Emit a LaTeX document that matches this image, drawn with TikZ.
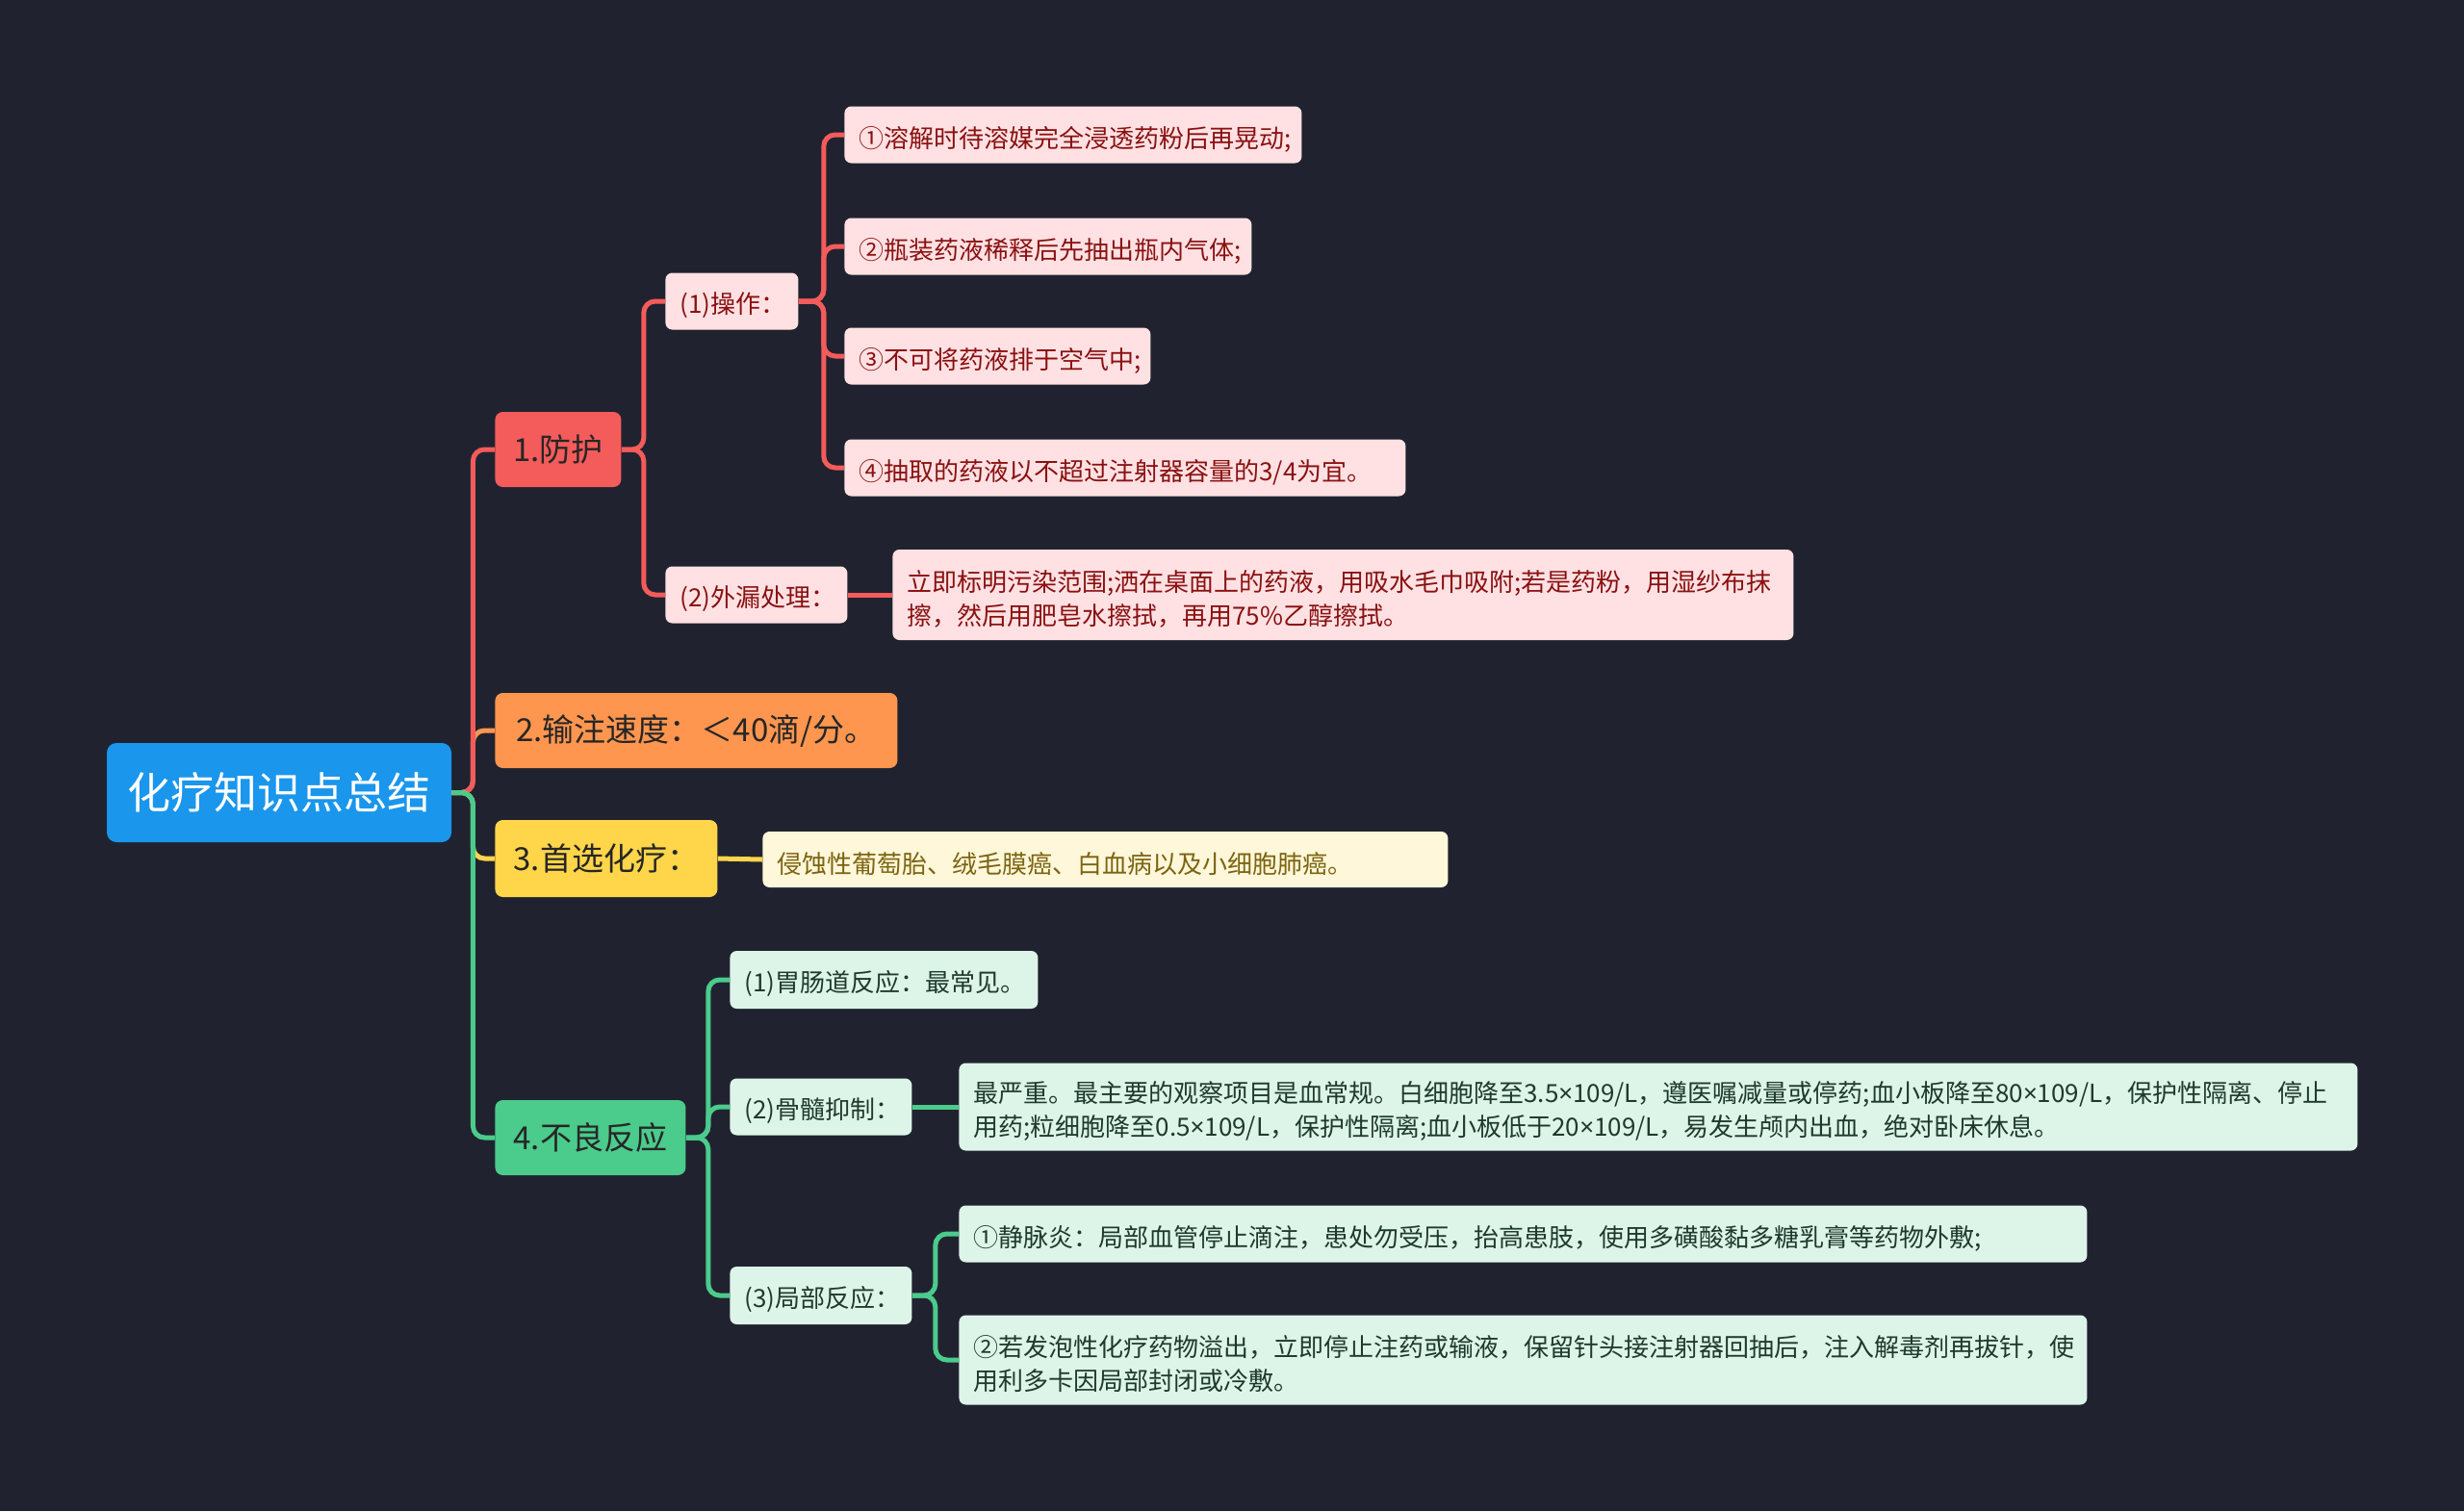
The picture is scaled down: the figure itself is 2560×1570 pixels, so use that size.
\documentclass[tikz,border=0pt]{standalone}
\usepackage{fontspec}
\setmainfont{Noto Sans CJK SC}
\newfontfamily\latinf{Noto Sans}
\newcommand{\tms}{{\latinf ×}}
\definecolor{bg}{HTML}{20232F}
\definecolor{cred}{HTML}{F45B5B}
\definecolor{corange}{HTML}{FF964F}
\definecolor{cyellow}{HTML}{FFD54A}
\definecolor{cgreen}{HTML}{4BCB8C}
\definecolor{croot}{HTML}{1A96EC}
\definecolor{lred}{HTML}{FFE1E3}
\definecolor{tred}{HTML}{8A1111}
\definecolor{lyellow}{HTML}{FFF7DA}
\definecolor{tyellow}{HTML}{7C6410}
\definecolor{lgreen}{HTML}{DDF5E8}
\definecolor{tgreen}{HTML}{1E3A2C}
\definecolor{tdark}{HTML}{262626}
\tikzset{
  rootbox/.style={fill=croot, text=white, rounded corners=5pt, inner sep=0pt,
    minimum width=179pt, minimum height=51.5pt, font=\fontsize{22.5}{26}\selectfont},
  mainbox/.style={rounded corners=4pt, inner sep=0pt, text=tdark, anchor=west,
    minimum height=39pt, font=\fontsize{16.5}{20}\selectfont},
  leaf/.style={rounded corners=3.5pt, anchor=west, inner xsep=7.5pt, inner ysep=0pt,
    align=left, text height=15.5pt, font=\fontsize{13}{17.5}\selectfont},
  redleaf/.style={leaf, fill=lred, text=tred},
  yellowleaf/.style={leaf, fill=lyellow, text=tyellow},
  greenleaf/.style={leaf, fill=lgreen, text=tgreen},
  conn/.style={line width=2.5pt, rounded corners=6pt},
}
\begin{document}
\begin{tikzpicture}[x=0.5pt, y=-0.5pt]
\fill[bg] (0,0) rectangle (2560,1570);
\useasboundingbox (0,0) rectangle (2560,1570);

% root
\node[rootbox] (root) at (290,823.5) {化疗知识点总结};

% level 1
\node[mainbox, fill=cred, minimum width=65.5pt] (n1) at (514,467) {1.防护};
\node[mainbox, fill=corange, minimum width=209pt] (n2) at (514,759) {2.输注速度：＜40滴/分。};
\node[mainbox, fill=cyellow, minimum width=115.5pt, minimum height=40pt] (n3) at (514,892) {3.首选化疗：};
\node[mainbox, fill=cgreen, minimum width=99pt] (n4) at (514,1182) {4.不良反应};

% branch 1
\node[redleaf, text width=54pt, minimum height=29.5pt] (a1) at (691,313) {(1)操作：};
\node[redleaf, text width=79.5pt, minimum height=29.5pt] (a2) at (691,618) {(2)外漏处理：};
\node[redleaf, text width=222.5pt, minimum height=29.5pt] (a11) at (877,140) {①溶解时待溶媒完全浸透药粉后再晃动;};
\node[redleaf, text width=196.5pt, minimum height=29.5pt] (a12) at (877,256) {②瓶装药液稀释后先抽出瓶内气体;};
\node[redleaf, text width=144pt, minimum height=29.5pt] (a13) at (877,370) {③不可将药液排于空气中;};
\node[redleaf, text width=276.5pt, minimum height=29.5pt] (a14) at (877,486) {④抽取的药液以不超过注射器容量的3/4为宜。};
\node[redleaf, text width=453pt, minimum height=47pt] (a21) at (927,618) {立即标明污染范围;洒在桌面上的药液，用吸水毛巾吸附;若是药粉，用湿纱布抹\\擦，然后用肥皂水擦拭，再用75\%乙醇擦拭。};

% branch 3
\node[yellowleaf, text width=341pt, minimum height=29pt] (c1) at (792,893) {侵蚀性葡萄胎、绒毛膜癌、白血病以及小细胞肺癌。};

% branch 4
\node[greenleaf, text width=145pt, minimum height=30pt] (d1) at (758,1018) {(1)胃肠道反应：最常见。};
\node[greenleaf, text width=79.5pt, minimum height=29.5pt] (d2) at (758,1150) {(2)骨髓抑制：};
\node[greenleaf, text width=79.5pt, minimum height=30pt] (d3) at (758,1346) {(3)局部反应：};
\node[greenleaf, text width=711.5pt, minimum height=45.5pt] (d21) at (996,1150) {最严重。最主要的观察项目是血常规。白细胞降至3.5\tms109/L，遵医嘱减量或停药;血小板降至80\tms109/L，保护性隔离、停止\\用药;粒细胞降至0.5\tms109/L，保护性隔离;血小板低于20\tms109/L，易发生颅内出血，绝对卧床休息。};
\node[greenleaf, text width=571pt, minimum height=29.5pt] (d31) at (996,1282) {①静脉炎：局部血管停止滴注，患处勿受压，抬高患肢，使用多磺酸黏多糖乳膏等药物外敷;};
\node[greenleaf, text width=571pt, minimum height=46.5pt] (d32) at (996,1413) {②若发泡性化疗药物溢出，立即停止注药或输液，保留针头接注射器回抽后，注入解毒剂再拔针，使\\用利多卡因局部封闭或冷敷。};

% connectors from root
\draw[conn, corange] (root.east) -- ++(22,0) |- (n2.west);
\draw[conn, cred] (root.east) -- ++(22,0) |- (n1.west);
\draw[conn, cyellow] (root.east) -- ++(22,0) |- (n3.west);
\draw[conn, cgreen] (root.east) -- ++(22,0) |- (n4.west);

% branch 1 connectors
\draw[conn, cred] (n1.east) -- ++(23,0) |- (a1.west);
\draw[conn, cred] (n1.east) -- ++(23,0) |- (a2.west);
\draw[conn, cred] (a1.east) -- ++(26,0) |- (a11.west);
\draw[conn, cred] (a1.east) -- ++(26,0) |- (a12.west);
\draw[conn, cred] (a1.east) -- ++(26,0) |- (a13.west);
\draw[conn, cred] (a1.east) -- ++(26,0) |- (a14.west);
\draw[conn, cred] (a2.east) -- (a21.west);

% branch 3
\draw[conn, cyellow] (n3.east) -- (c1.west);

% branch 4
\draw[conn, cgreen] (n4.east) -- ++(23,0) |- (d1.west);
\draw[conn, cgreen] (n4.east) -- ++(23,0) |- (d2.west);
\draw[conn, cgreen] (n4.east) -- ++(23,0) |- (d3.west);
\draw[conn, cgreen] (d2.east) -- (d21.west);
\draw[conn, cgreen] (d3.east) -- ++(24,0) |- (d31.west);
\draw[conn, cgreen] (d3.east) -- ++(24,0) |- (d32.west);
\end{tikzpicture}
\end{document}
